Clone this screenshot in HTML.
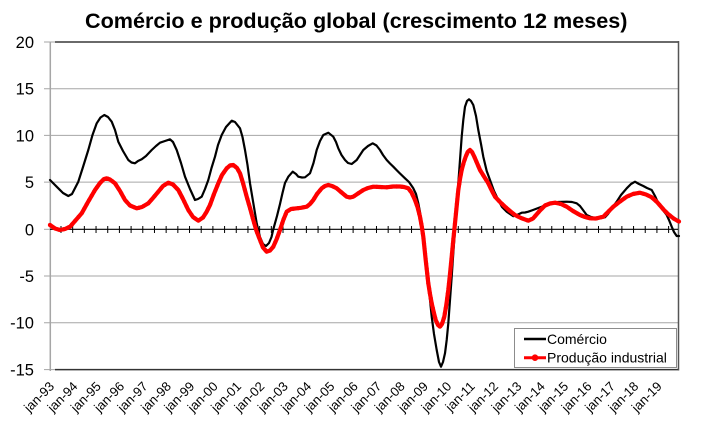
<!DOCTYPE html>
<html><head><meta charset="utf-8"><style>
html,body{margin:0;padding:0;background:#fff;}
svg{display:block;}
text{font-family:"Liberation Sans",Arial,sans-serif;}
</style></head><body>
<svg width="716" height="443" viewBox="0 0 716 443" xmlns="http://www.w3.org/2000/svg">
<rect width="716" height="443" fill="#fff"/>
<text x="85" y="28" font-size="21.6" font-weight="bold" fill="#000">Comércio e produção global (crescimento 12 meses)</text>

<!-- gridlines -->
<g stroke="#a6a6a6" stroke-width="1">
<line x1="44" y1="88.7" x2="678" y2="88.7"/>
<line x1="44" y1="135.4" x2="678" y2="135.4"/>
<line x1="44" y1="182.1" x2="678" y2="182.1"/>
<line x1="44" y1="276" x2="678" y2="276"/>
<line x1="44" y1="322.7" x2="678" y2="322.7"/>
<line x1="44" y1="42" x2="56" y2="42"/>
<line x1="44" y1="229.3" x2="50" y2="229.3"/>
<line x1="44" y1="369.6" x2="56" y2="369.6"/>
</g>
<!-- plot border -->
<line x1="55" y1="42" x2="679" y2="42" stroke="#6a6a6a" stroke-width="2"/>
<line x1="55" y1="369.6" x2="679" y2="369.6" stroke="#333" stroke-width="1.5"/>
<line x1="678.5" y1="41" x2="678.5" y2="370.5" stroke="#555" stroke-width="1.5"/>
<!-- y axis -->
<line x1="50.3" y1="42" x2="50.3" y2="371" stroke="#a6a6a6" stroke-width="1.5"/>

<!-- y labels -->
<g font-size="16.5" text-anchor="end" fill="#000">
<text x="34" y="48">20</text>
<text x="34" y="94.7">15</text>
<text x="34" y="141.4">10</text>
<text x="34" y="188.1">5</text>
<text x="34" y="235.3">0</text>
<text x="34" y="282">-5</text>
<text x="34" y="328.7">-10</text>
<text x="34" y="375.6">-15</text>
</g>

<!-- x axis -->
<line x1="50" y1="229.3" x2="678" y2="229.3" stroke="#000" stroke-width="1.2"/>
<path stroke="#000" stroke-width="1" fill="none" d="M60.99 226V233M72.67 226V233M84.36 226V233M96.04 226V233M107.73 226V233M119.41 226V233M131.1 226V233M142.78 226V233M154.47 226V233M166.15 226V233M177.84 226V233M189.52 226V233M201.21 226V233M212.89 226V233M224.58 226V233M236.26 226V233M247.95 226V233M259.63 226V233M271.32 226V233M283 226V233M294.69 226V233M306.37 226V233M318.06 226V233M329.74 226V233M341.43 226V233M353.11 226V233M364.8 226V233M376.48 226V233M388.17 226V233M399.85 226V233M411.54 226V233M423.22 226V233M434.91 226V233M446.59 226V233M458.28 226V233M469.96 226V233M481.65 226V233M493.33 226V233M505.02 226V233M516.7 226V233M528.39 226V233M540.07 226V233M551.76 226V233M563.44 226V233M575.13 226V233M586.81 226V233M598.5 226V233M610.18 226V233M621.87 226V233M633.55 226V233M645.24 226V233M656.92 226V233M668.61 226V233"/>

<!-- x labels -->
<g font-size="13" text-anchor="end" fill="#000">
<text transform="translate(51.8,384) rotate(-45)" dominant-baseline="central">jan-93</text>
<text transform="translate(75.2,384) rotate(-45)" dominant-baseline="central">jan-94</text>
<text transform="translate(98.5,384) rotate(-45)" dominant-baseline="central">jan-95</text>
<text transform="translate(121.9,384) rotate(-45)" dominant-baseline="central">jan-96</text>
<text transform="translate(145.3,384) rotate(-45)" dominant-baseline="central">jan-97</text>
<text transform="translate(168.7,384) rotate(-45)" dominant-baseline="central">jan-98</text>
<text transform="translate(192,384) rotate(-45)" dominant-baseline="central">jan-99</text>
<text transform="translate(215.4,384) rotate(-45)" dominant-baseline="central">jan-00</text>
<text transform="translate(238.8,384) rotate(-45)" dominant-baseline="central">jan-01</text>
<text transform="translate(262.1,384) rotate(-45)" dominant-baseline="central">jan-02</text>
<text transform="translate(285.5,384) rotate(-45)" dominant-baseline="central">jan-03</text>
<text transform="translate(308.9,384) rotate(-45)" dominant-baseline="central">jan-04</text>
<text transform="translate(332.2,384) rotate(-45)" dominant-baseline="central">jan-05</text>
<text transform="translate(355.6,384) rotate(-45)" dominant-baseline="central">jan-06</text>
<text transform="translate(379,384) rotate(-45)" dominant-baseline="central">jan-07</text>
<text transform="translate(402.4,384) rotate(-45)" dominant-baseline="central">jan-08</text>
<text transform="translate(425.7,384) rotate(-45)" dominant-baseline="central">jan-09</text>
<text transform="translate(449.1,384) rotate(-45)" dominant-baseline="central">jan-10</text>
<text transform="translate(472.5,384) rotate(-45)" dominant-baseline="central">jan-11</text>
<text transform="translate(495.8,384) rotate(-45)" dominant-baseline="central">jan-12</text>
<text transform="translate(519.2,384) rotate(-45)" dominant-baseline="central">jan-13</text>
<text transform="translate(542.6,384) rotate(-45)" dominant-baseline="central">jan-14</text>
<text transform="translate(565.9,384) rotate(-45)" dominant-baseline="central">jan-15</text>
<text transform="translate(589.3,384) rotate(-45)" dominant-baseline="central">jan-16</text>
<text transform="translate(612.7,384) rotate(-45)" dominant-baseline="central">jan-17</text>
<text transform="translate(636.1,384) rotate(-45)" dominant-baseline="central">jan-18</text>
<text transform="translate(659.4,384) rotate(-45)" dominant-baseline="central">jan-19</text>
</g>

<!-- Comércio -->
<polyline fill="none" stroke="#000" stroke-width="2.2" stroke-linejoin="round" stroke-linecap="round" points="50,180 54,184 58.3,188.3 63,193 68.3,196 72,194 78.3,181.7 83,167 88.3,150 92.5,135 96.7,123.3 100.5,117.5 104.3,115 108,117 111.7,121.7 115,130 118.3,141.7 123,151 128.3,160 131.5,162.5 135,163.3 138,161 141.7,159.3 146,156 151.7,150 156,146 160,142.7 165,141 170,139.3 173,142 176.7,150 181,163 185,176.7 190,189 195,200 198,199 201.7,196.7 205,189 208.3,180 211.5,168 215,156.7 218,145 221.7,135 226,127 231.7,120.7 235,122 240,128.3 242.5,137 245,150 247.5,165 250,183.3 253.3,203 256.7,223.3 260,237 263,244 266,246 269,243 271.5,237 273.3,229.3 277,216 280,204 282.5,193 285,183 288.3,176.7 292.7,171.7 296,174 298.3,176.7 302,177.5 305,177.3 310,173.3 313.5,163 316.7,150 320,141 323.3,135 328.3,132.7 333.3,136.7 336,142 338.3,148.3 341.5,155 345,160 348,163 351.7,164 356.7,160 360,155 363.3,150 368,146 372.7,143.3 376.5,145.5 380,150 383,155 386.7,160 390,163.5 393.3,166.7 397,170.5 400,173.5 405,178.3 409,182 413.3,188.3 416,194 418.3,203.3 420,212 421.7,223.3 423.3,234 425,246.7 426.7,264 428.3,283.3 430,300 431.7,316.7 434,334 436.7,350 439,362 441,366.7 443,362 445,353.3 446.7,340 448.3,323.3 450,300 451.7,276.7 453.3,253 455,230 456.7,206 458.3,183.3 460,160 461.7,136.7 463.3,120 465,106.7 467,101 469,99.3 471,101 473.3,105 476,116 478.3,130 481,144 483.3,156.7 486.7,171 490,180 494,191 498.3,200 502,207 506.7,211.7 510,214 513.3,216.2 518,214.5 521.7,212.7 525,212.5 528.3,211.7 533,210 538.3,208 545,205.5 551.7,203.3 558,202 566.7,201.7 572,202 576.7,203.3 580,206 583,210 586.7,215 591,217 596.7,218.3 601,218 605,217.3 608,214 612,208 616.7,201.7 621,195 626.7,188.3 631,184 635,181.7 639,184 643.3,186 647,188 651.7,190 655,196 658.3,203.3 662,209 666.7,215 669,220 671.7,226.7 674,232 676.7,236 679,236"/>

<!-- Produção industrial -->
<g fill="none" stroke="#ff0000" stroke-linejoin="round" stroke-linecap="round">
<polyline id="pi" stroke-width="4.2" points="50,225 55,228.5 60,230 65,229 70,226.7 75,221 81.7,213.3 88,202 95,190 100,183 104,179 106.7,178.3 110,179.5 115,183.3 120,191 125,200 130,205.5 136.7,208.3 142,207 148.3,203.3 153,198 158.3,191.7 163,186 168.3,182.7 173,184.5 178.3,190 183,199 188.3,210 193,217 198.3,220.7 203,217.5 206.5,212 210,205 214,194 218.3,183.3 222,175 226.7,168.3 230,165.5 233.3,165 237,168 240,173.3 243,183 246.7,196.7 250,208 253.3,220 256.5,231 260,240 263,247.5 266.7,251.7 270,250.5 273.3,246.7 276.7,239 280,230 283.3,220 286.7,211.7 291,209 296.7,208.3 301,207.8 306.7,206.7 310,204 313.3,200 317,194 321.7,188.3 325,186 328.3,185 332,186 336.7,188.3 341,192 346.7,196.7 350,197.5 353.3,196.7 358,193.5 363.3,190 368,188 373.3,186.7 380,187 386.7,187.3 393,186.5 400,186.5 404,187 408.3,188.3 411.5,192.5 415,200 417.5,207 420,216.7 421.7,226 423.3,236.7 425.7,260 428.3,283.3 430,294 431.7,303.3 433.7,312 435.7,320 438,325 440,326.7 442,324 444.3,316.7 446.3,305 448.3,290 450,274 451.7,256.7 453.3,240 455,223.3 456.7,206 458.3,190 460,179 461.7,170 463.7,162.5 465.7,156.7 467.7,152 470,150 472,152 474.3,156.7 477,163 480,170 484,176.5 488.3,183.3 491.5,190 495,196.7 500,202 505,206.7 510,211 515,215 521,218 528.3,220.7 533,218.5 540,210.5 545,205.5 550,203.5 555,202.7 561,204 566.7,206.7 573,211 580,215 585,217 590,218.3 596,218.5 603.3,216.7 608,212 613.3,206.7 620,201.5 626.7,196.7 633,194 640,192.7 646,194.5 651.7,197.3 657,202 663.3,209.3 668,214 673.3,218.3 677,220.5 679,221.5"/>
<use href="#pi" stroke-width="6.6" stroke-dasharray="0 5"/>
</g>

<!-- legend -->
<rect x="514.5" y="328.5" width="162" height="39" fill="#fff" stroke="#8c8c8c" stroke-width="1"/>
<line x1="524" y1="339" x2="546" y2="339" stroke="#000" stroke-width="2.5"/>
<line x1="524" y1="357.7" x2="546" y2="357.7" stroke="#ff0000" stroke-width="3"/>
<circle cx="535" cy="357.7" r="3.3" fill="#ff0000"/>
<g font-size="14" fill="#000">
<text x="547" y="344">Comércio</text>
<text x="547" y="362.7">Produção industrial</text>
</g>
</svg>
</body></html>
